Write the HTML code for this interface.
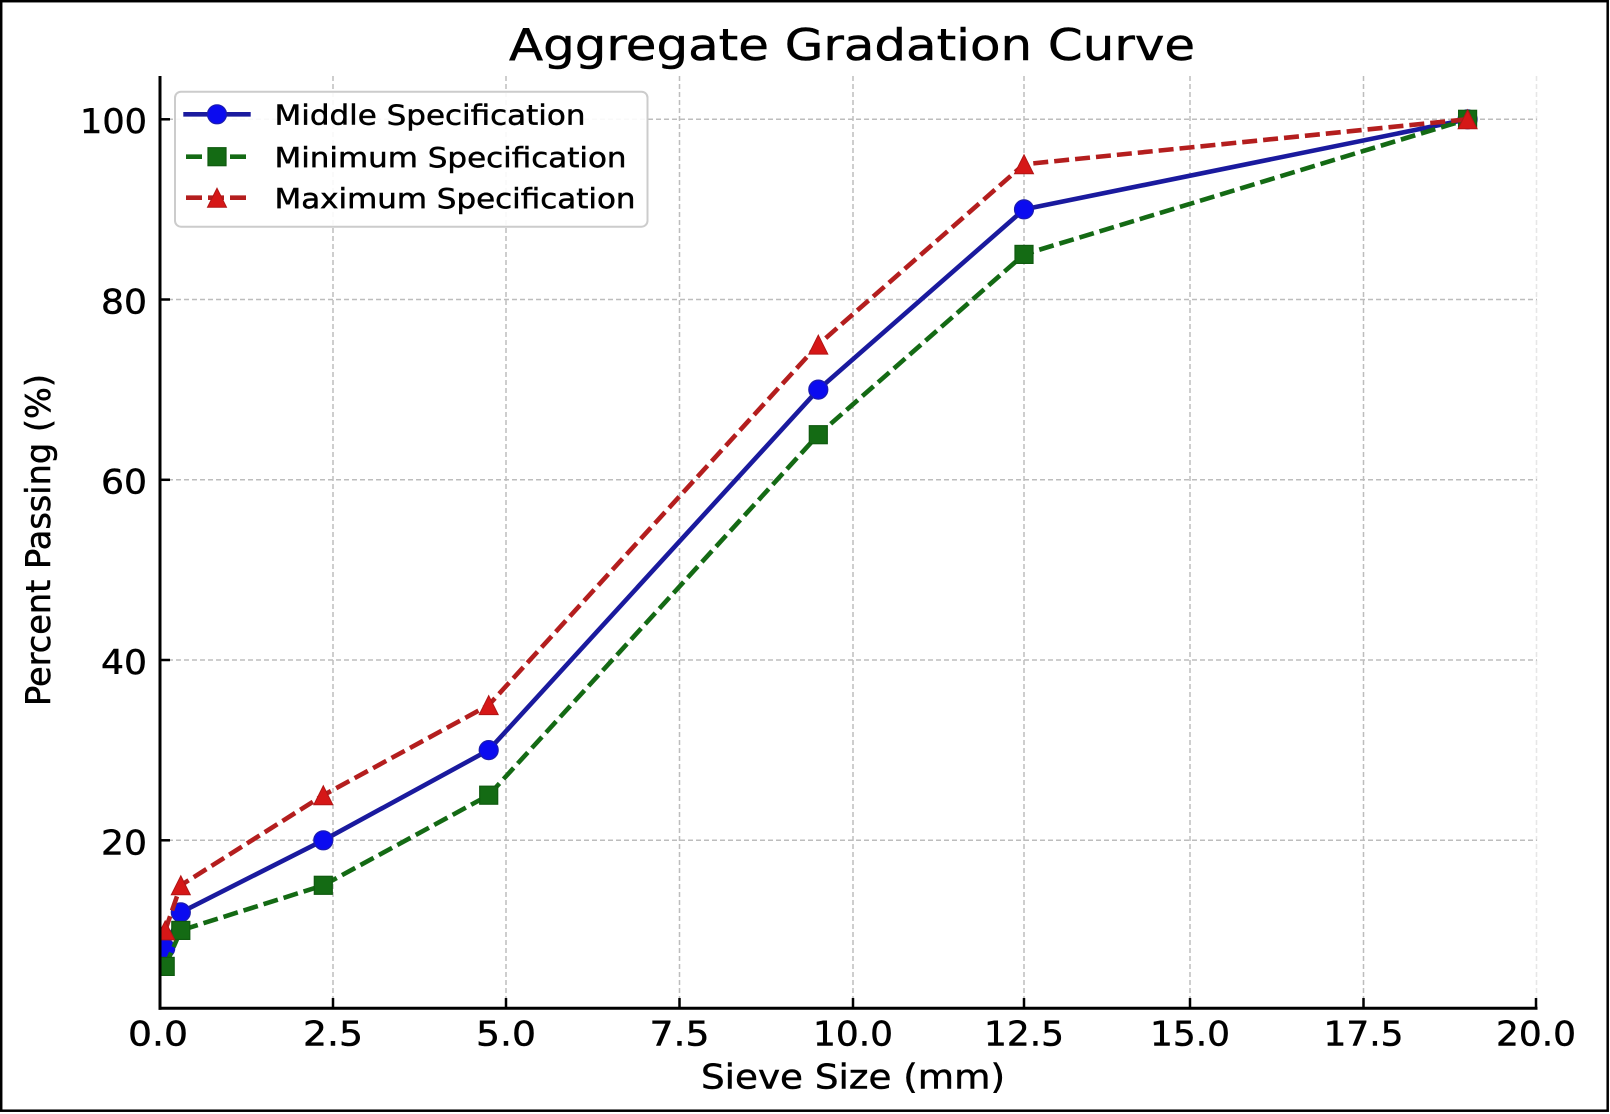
<!DOCTYPE html>
<html>
<head>
<meta charset="utf-8">
<style>
html,body{margin:0;padding:0;background:#fff;}
svg{display:block;}
text{font-family:"DejaVu Sans","Liberation Sans",sans-serif;fill:#000;stroke:#000;stroke-width:0.5;}
</style>
</head>
<body>
<svg width="1610" height="1114" viewBox="0 0 1610 1114" xmlns="http://www.w3.org/2000/svg">
<defs>
<clipPath id="ax"><rect x="160" y="76" width="1377" height="932.5"/></clipPath>
</defs>
<rect x="0" y="0" width="1610" height="1114" fill="#fff"/>
<rect x="1.2" y="1.2" width="1606.5" height="1109.5" fill="none" stroke="#000" stroke-width="2.5"/>

<g stroke="#bdbdbd" stroke-width="1.5" stroke-dasharray="5 3" fill="none">
  <line x1="333" y1="76" x2="333" y2="1008"/>
  <line x1="506" y1="76" x2="506" y2="1008"/>
  <line x1="679.5" y1="76" x2="679.5" y2="1008"/>
  <line x1="853" y1="76" x2="853" y2="1008"/>
  <line x1="1024" y1="76" x2="1024" y2="1008"/>
  <line x1="1190" y1="76" x2="1190" y2="1008"/>
  <line x1="1363.5" y1="76" x2="1363.5" y2="1008"/>
  <line x1="1536.5" y1="76" x2="1536.5" y2="1008" stroke="#e6e6e6"/>
  <line x1="160" y1="119.3" x2="1537" y2="119.3"/>
  <line x1="160" y1="299.5" x2="1537" y2="299.5"/>
  <line x1="160" y1="479.8" x2="1537" y2="479.8"/>
  <line x1="160" y1="660" x2="1537" y2="660"/>
  <line x1="160" y1="840.3" x2="1537" y2="840.3"/>
</g>

<g clip-path="url(#ax)">
  <polyline fill="none" stroke="#1a1a9e" stroke-width="4.6" stroke-linejoin="round"
    points="165.2,948.4 180.8,912.4 323.3,840.3 488.7,750.1 818.3,389.6 1024,209.4 1467.6,119.3"/>
  <g fill="#0b0bf0" stroke="#1c1cae" stroke-width="1.2">
    <circle cx="165.2" cy="948.4" r="9.5"/>
    <circle cx="180.8" cy="912.4" r="9.5"/>
    <circle cx="323.3" cy="840.3" r="9.5"/>
    <circle cx="488.7" cy="750.1" r="9.5"/>
    <circle cx="818.3" cy="389.6" r="9.5"/>
    <circle cx="1024" cy="209.4" r="9.5"/>
    <circle cx="1467.6" cy="119.3" r="9.5"/>
  </g>
  <polyline fill="none" stroke="#146a14" stroke-width="4.6" stroke-dasharray="15 6"
    points="165.2,966.4 180.8,930.4 323.3,885.3 488.7,795.2 818.3,434.7 1024,254.4 1467.6,119.3"/>
  <g fill="#146b14" stroke="#0f5a0f" stroke-width="1.2">
    <rect x="156.2" y="957.4" width="18" height="18"/>
    <rect x="171.8" y="921.4" width="18" height="18"/>
    <rect x="314.3" y="876.3" width="18" height="18"/>
    <rect x="479.7" y="786.2" width="18" height="18"/>
    <rect x="809.3" y="425.7" width="18" height="18"/>
    <rect x="1015" y="245.4" width="18" height="18"/>
    <rect x="1458.6" y="110.3" width="18" height="18"/>
  </g>
  <polyline fill="none" stroke="#b41e1e" stroke-width="4.6" stroke-dasharray="15 6"
    points="165.2,930.4 180.8,885.3 323.3,795.2 488.7,705.1 818.3,344.6 1024,164.3 1467.6,119.3"/>
  <g fill="#d61717" stroke="#b01515" stroke-width="1">
    <polygon points="165.2,920.9 155.7,939.9 174.7,939.9"/>
    <polygon points="180.8,875.8 171.3,894.8 190.3,894.8"/>
    <polygon points="323.3,785.7 313.8,804.7 332.8,804.7"/>
    <polygon points="488.7,695.6 479.2,714.6 498.2,714.6"/>
    <polygon points="818.3,335.1 808.8,354.1 827.8,354.1"/>
    <polygon points="1024,154.8 1014.5,173.8 1033.5,173.8"/>
    <polygon points="1467.6,109.8 1458.1,128.8 1477.1,128.8"/>
  </g>
</g>

<g stroke="#000" stroke-width="3" fill="none">
  <line x1="160" y1="76" x2="160" y2="1009.8"/>
  <line x1="158.5" y1="1008.3" x2="1537.5" y2="1008.3"/>
</g>
<g stroke="#000" stroke-width="2.5">
  <line x1="160" y1="119.3" x2="170" y2="119.3"/>
  <line x1="160" y1="299.5" x2="170" y2="299.5"/>
  <line x1="160" y1="479.8" x2="170" y2="479.8"/>
  <line x1="160" y1="660" x2="170" y2="660"/>
  <line x1="160" y1="840.3" x2="170" y2="840.3"/>
  <line x1="333" y1="1008" x2="333" y2="998"/>
  <line x1="506" y1="1008" x2="506" y2="998"/>
  <line x1="679.5" y1="1008" x2="679.5" y2="998"/>
  <line x1="853" y1="1008" x2="853" y2="998"/>
  <line x1="1024" y1="1008" x2="1024" y2="998"/>
  <line x1="1190" y1="1008" x2="1190" y2="998"/>
  <line x1="1363.5" y1="1008" x2="1363.5" y2="998"/>
  <line x1="1536" y1="1008" x2="1536" y2="998"/>
</g>

<g font-size="34" text-anchor="end">
  <text x="147" y="133" textLength="67" lengthAdjust="spacingAndGlyphs">100</text>
  <text x="147" y="313.3" textLength="46" lengthAdjust="spacingAndGlyphs">80</text>
  <text x="147" y="493.6" textLength="46" lengthAdjust="spacingAndGlyphs">60</text>
  <text x="147" y="673.8" textLength="46" lengthAdjust="spacingAndGlyphs">40</text>
  <text x="147" y="854.5" textLength="46" lengthAdjust="spacingAndGlyphs">20</text>
</g>
<g font-size="34" text-anchor="middle">
  <text x="158" y="1045.7" textLength="60" lengthAdjust="spacingAndGlyphs">0.0</text>
  <text x="333" y="1045.7" textLength="60" lengthAdjust="spacingAndGlyphs">2.5</text>
  <text x="506" y="1045.7" textLength="60" lengthAdjust="spacingAndGlyphs">5.0</text>
  <text x="679.5" y="1045.7" textLength="60" lengthAdjust="spacingAndGlyphs">7.5</text>
  <text x="853" y="1045.7" textLength="80" lengthAdjust="spacingAndGlyphs">10.0</text>
  <text x="1024" y="1045.7" textLength="80" lengthAdjust="spacingAndGlyphs">12.5</text>
  <text x="1190" y="1045.7" textLength="80" lengthAdjust="spacingAndGlyphs">15.0</text>
  <text x="1363.5" y="1045.7" textLength="80" lengthAdjust="spacingAndGlyphs">17.5</text>
  <text x="1536" y="1045.7" textLength="80" lengthAdjust="spacingAndGlyphs">20.0</text>
</g>

<text x="853" y="1088.3" font-size="34" text-anchor="middle" textLength="304" lengthAdjust="spacingAndGlyphs">Sieve Size (mm)</text>
<text transform="translate(50,540) rotate(-90)" x="0" y="0" font-size="34" text-anchor="middle" textLength="332" lengthAdjust="spacingAndGlyphs">Percent Passing (%)</text>

<text x="852" y="60" font-size="44" text-anchor="middle" textLength="686" lengthAdjust="spacingAndGlyphs">Aggregate Gradation Curve</text>

<rect x="175" y="91.7" width="472.5" height="135" rx="6" ry="6" fill="#fff" fill-opacity="0.9" stroke="#cccccc" stroke-width="2"/>
<line x1="183.3" y1="114.3" x2="250.7" y2="114.3" stroke="#1a1a9e" stroke-width="4.6"/>
<circle cx="217" cy="114.3" r="9.5" fill="#0b0bf0" stroke="#1c1cae" stroke-width="1.2"/>
<line x1="186" y1="156.7" x2="250.7" y2="156.7" stroke="#146a14" stroke-width="4.6" stroke-dasharray="16 6"/>
<rect x="208" y="147.7" width="18" height="18" fill="#146b14" stroke="#0f5a0f" stroke-width="1.2"/>
<line x1="186" y1="197.7" x2="250.7" y2="197.7" stroke="#b41e1e" stroke-width="4.6" stroke-dasharray="16 6"/>
<polygon points="217,188.2 207.5,207.2 226.5,207.2" fill="#d61717" stroke="#b01515" stroke-width="1"/>
<g font-size="28">
  <text x="274.5" y="124.5" textLength="311" lengthAdjust="spacingAndGlyphs">Middle Specification</text>
  <text x="274.5" y="166.9" textLength="352" lengthAdjust="spacingAndGlyphs">Minimum Specification</text>
  <text x="274.5" y="207.9" textLength="361" lengthAdjust="spacingAndGlyphs">Maximum Specification</text>
</g>
</svg>
</body>
</html>
